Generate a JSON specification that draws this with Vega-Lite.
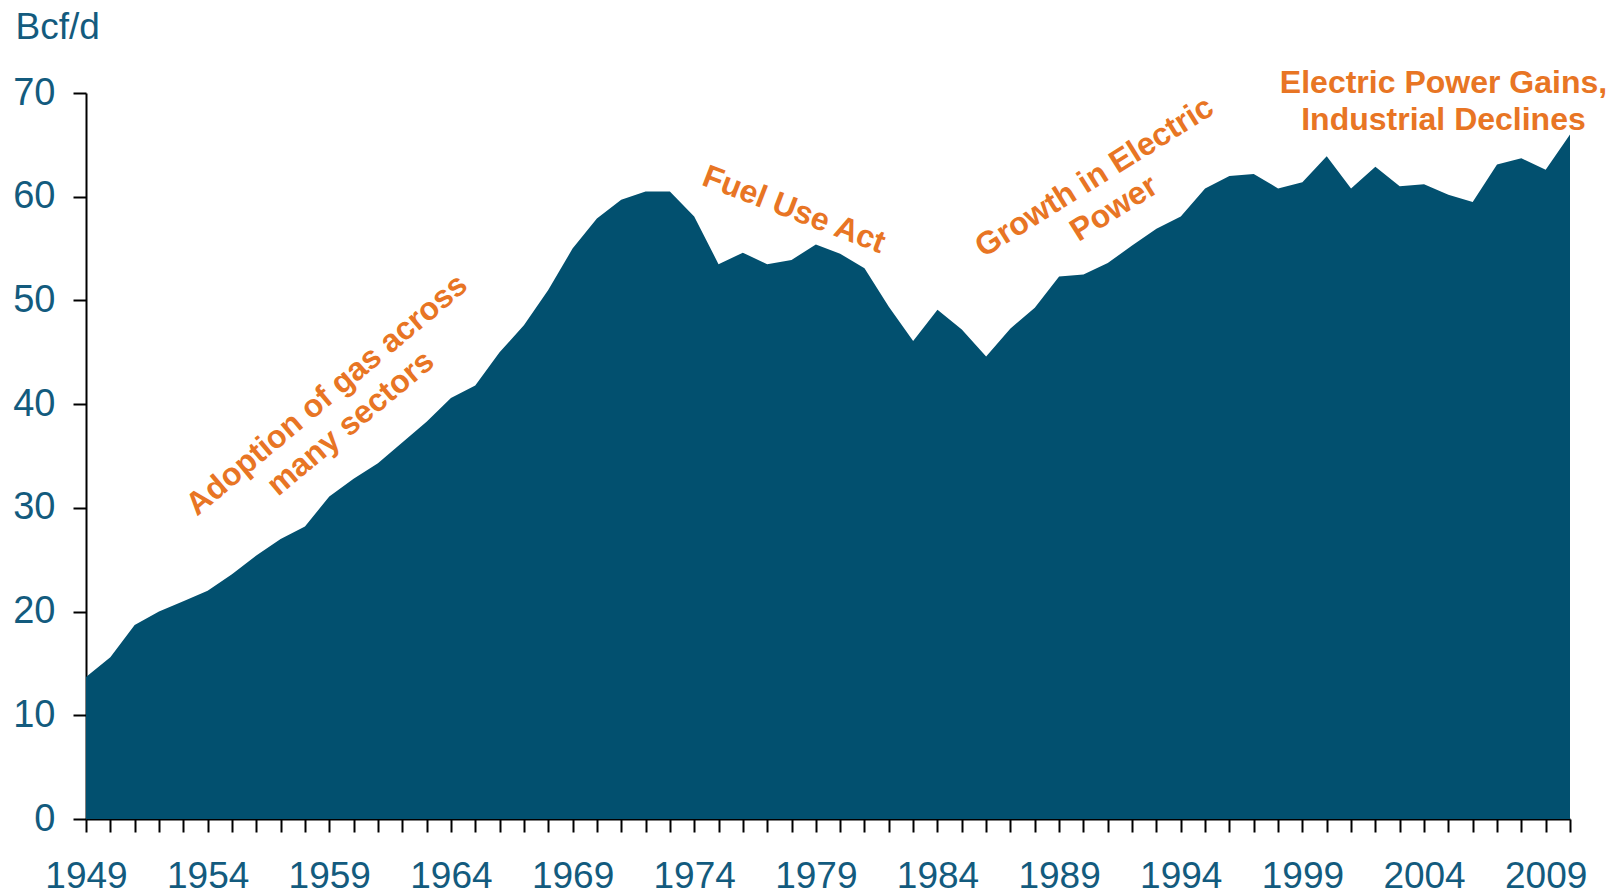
{
  "$schema": "https://vega.github.io/schema/vega-lite/v6.json",
  "width": 1484,
  "height": 726,
  "autosize": "none",
  "padding": {"left": 86, "top": 93, "right": 49, "bottom": 75},
  "background": "white",
  "config": {
    "view": {"stroke": null},
    "font": "Liberation Sans",
    "axis": {"grid": false}
  },
  "data": {
    "values": [
      {"year": 1949, "value": 13.7}, {"year": 1950, "value": 15.6}, {"year": 1951, "value": 18.7},
      {"year": 1952, "value": 20.0}, {"year": 1953, "value": 21.0}, {"year": 1954, "value": 22.0},
      {"year": 1955, "value": 23.6}, {"year": 1956, "value": 25.4}, {"year": 1957, "value": 27.0},
      {"year": 1958, "value": 28.2}, {"year": 1959, "value": 31.1}, {"year": 1960, "value": 32.8},
      {"year": 1961, "value": 34.3}, {"year": 1962, "value": 36.3}, {"year": 1963, "value": 38.3},
      {"year": 1964, "value": 40.6}, {"year": 1965, "value": 41.8}, {"year": 1966, "value": 45.0},
      {"year": 1967, "value": 47.6}, {"year": 1968, "value": 51.0}, {"year": 1969, "value": 55.0},
      {"year": 1970, "value": 57.9}, {"year": 1971, "value": 59.7}, {"year": 1972, "value": 60.5},
      {"year": 1973, "value": 60.5}, {"year": 1974, "value": 58.1}, {"year": 1975, "value": 53.5},
      {"year": 1976, "value": 54.6}, {"year": 1977, "value": 53.5}, {"year": 1978, "value": 53.9},
      {"year": 1979, "value": 55.4}, {"year": 1980, "value": 54.5}, {"year": 1981, "value": 53.1},
      {"year": 1982, "value": 49.4}, {"year": 1983, "value": 46.1}, {"year": 1984, "value": 49.1},
      {"year": 1985, "value": 47.2}, {"year": 1986, "value": 44.6}, {"year": 1987, "value": 47.3},
      {"year": 1988, "value": 49.3}, {"year": 1989, "value": 52.3}, {"year": 1990, "value": 52.5},
      {"year": 1991, "value": 53.6}, {"year": 1992, "value": 55.3}, {"year": 1993, "value": 56.9},
      {"year": 1994, "value": 58.1}, {"year": 1995, "value": 60.8}, {"year": 1996, "value": 62.0},
      {"year": 1997, "value": 62.2}, {"year": 1998, "value": 60.8}, {"year": 1999, "value": 61.4},
      {"year": 2000, "value": 63.9}, {"year": 2001, "value": 60.8}, {"year": 2002, "value": 62.9},
      {"year": 2003, "value": 61.0}, {"year": 2004, "value": 61.2}, {"year": 2005, "value": 60.2},
      {"year": 2006, "value": 59.5}, {"year": 2007, "value": 63.1}, {"year": 2008, "value": 63.7},
      {"year": 2009, "value": 62.6}, {"year": 2010, "value": 66.0}
    ]
  },
  "encoding": {
    "x": {
      "field": "year",
      "type": "quantitative",
      "scale": {"domain": [1949, 2010], "nice": false, "zero": false},
      "axis": {
        "title": null,
        "values": [1949,1950,1951,1952,1953,1954,1955,1956,1957,1958,1959,1960,1961,1962,1963,1964,1965,1966,1967,1968,1969,1970,1971,1972,1973,1974,1975,1976,1977,1978,1979,1980,1981,1982,1983,1984,1985,1986,1987,1988,1989,1990,1991,1992,1993,1994,1995,1996,1997,1998,1999,2000,2001,2002,2003,2004,2005,2006,2007,2008,2009,2010],
        "labelExpr": "(datum.value - 1949) % 5 == 0 ? datum.value + '' : ''",
        "labelFontSize": 37,
        "labelColor": "#135B7E",
        "labelPadding": 26,
        "labelOverlap": false,
        "labelFlush": false,
        "tickSize": 13,
        "tickWidth": 2,
        "tickColor": "#000000",
        "domainColor": "#000000",
        "domainWidth": 2
      }
    },
    "y": {
      "field": "value",
      "type": "quantitative",
      "scale": {"domain": [0, 70], "nice": false},
      "axis": {
        "title": "Bcf/d",
        "titleAngle": 0,
        "titleAlign": "left",
        "titleBaseline": "alphabetic",
        "titleX": -71,
        "titleY": -55,
        "titleFontSize": 37,
        "titleFontWeight": "normal",
        "titleColor": "#135B7E",
        "values": [0, 10, 20, 30, 40, 50, 60, 70],
        "labelFontSize": 38,
        "labelColor": "#135B7E",
        "labelPadding": 18,
        "labelFlush": false,
        "tickSize": 13,
        "tickWidth": 2,
        "tickColor": "#000000",
        "domainColor": "#000000",
        "domainWidth": 2
      }
    }
  },
  "layer": [
    {
      "mark": {"type": "area", "color": "#02506F", "interpolate": "linear"}
    },
    {
      "data": {"values": [{"year": 1958.9, "value": 40.9, "label": "Adoption of gas across\nmany sectors"}]},
      "mark": {"type": "text", "angle": -40, "align": "center", "baseline": "middle", "lineBreak": "\n", "lineHeight": 37, "fontSize": 32, "fontWeight": "bold", "color": "#E87524"},
      "encoding": {"text": {"field": "label"}, "x": {"field": "year", "type": "quantitative"}, "y": {"field": "value", "type": "quantitative"}}
    },
    {
      "data": {"values": [{"year": 1978.1, "value": 58.75, "label": "Fuel Use Act"}]},
      "mark": {"type": "text", "angle": 21, "align": "center", "baseline": "middle", "fontSize": 32, "fontWeight": "bold", "color": "#E87524"},
      "encoding": {"text": {"field": "label"}, "x": {"field": "year", "type": "quantitative"}, "y": {"field": "value", "type": "quantitative"}}
    },
    {
      "data": {"values": [{"year": 1990.45, "value": 61.9, "label": "Growth in Electric\nPower"}]},
      "mark": {"type": "text", "angle": -32, "align": "center", "baseline": "middle", "lineBreak": "\n", "lineHeight": 37, "fontSize": 32, "fontWeight": "bold", "color": "#E87524"},
      "encoding": {"text": {"field": "label"}, "x": {"field": "year", "type": "quantitative"}, "y": {"field": "value", "type": "quantitative"}}
    },
    {
      "data": {"values": [{"year": 2004.8, "value": 71.0, "label": "Electric Power Gains,\nIndustrial Declines"}]},
      "mark": {"type": "text", "align": "center", "baseline": "middle", "lineBreak": "\n", "lineHeight": 37, "fontSize": 32, "fontWeight": "bold", "color": "#E87524"},
      "encoding": {"text": {"field": "label"}, "x": {"field": "year", "type": "quantitative"}, "y": {"field": "value", "type": "quantitative"}}
    }
  ]
}
